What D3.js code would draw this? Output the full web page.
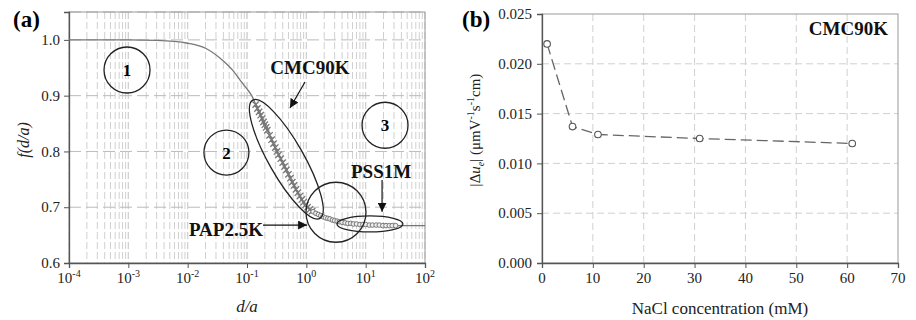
<!DOCTYPE html>
<html>
<head>
<meta charset="utf-8">
<script src="https://cdn.jsdelivr.net/npm/d3@7"></script>
<style>
  body { margin: 0; background: #fff; }
</style>
</head>
<body>
<div id="chart"></div>
<script>
// ---- panel (a) data: f(d/a) curve and the three polymer series
const curveDa = [0.0001, 0.001, 0.003, 0.01, 0.02, 0.04, 0.06, 0.08, 0.1, 0.12, 0.15, 0.2, 0.25, 0.32,
  0.4, 0.5, 0.6, 0.7, 0.8, 0.95, 1.1, 1.3, 1.7, 2.5, 3.5, 5, 10, 30, 100];
const curveF = [1.000, 1.000, 0.999, 0.994, 0.985, 0.962, 0.943, 0.925, 0.912, 0.900, 0.877, 0.848, 0.825, 0.800,
  0.780, 0.759, 0.742, 0.728, 0.717, 0.703, 0.697, 0.692, 0.686, 0.679, 0.675, 0.672, 0.669, 0.667, 0.667];

const cmcDa = [0.14, 0.15, 0.16, 0.17, 0.18, 0.19, 0.2, 0.21, 0.22, 0.24, 0.26, 0.28, 0.3, 0.32, 0.34, 0.37,
  0.4, 0.43, 0.46, 0.5, 0.54, 0.58, 0.62, 0.67, 0.72, 0.78, 0.84, 0.9, 0.97, 1.05, 1.15, 1.25];
const cmcF = [0.884, 0.877, 0.871, 0.865, 0.859, 0.853, 0.848, 0.843, 0.838, 0.829, 0.821, 0.814, 0.807, 0.800, 0.794, 0.787,
  0.780, 0.773, 0.767, 0.759, 0.752, 0.745, 0.739, 0.732, 0.726, 0.720, 0.714, 0.709, 0.704, 0.700, 0.696, 0.693];

const papDa = [1.3, 1.45, 1.6, 1.75, 1.9, 2.1, 2.3, 2.5, 2.75, 3.0, 3.3, 3.6, 4.0, 4.5];
const papF = [0.692, 0.689, 0.687, 0.685, 0.683, 0.681, 0.680, 0.679, 0.677, 0.676, 0.675, 0.674, 0.673, 0.672];

const pssDa = [5, 5.6, 6.2, 7, 8, 9, 10, 11.5, 13, 15, 17, 19.5, 22, 25, 28, 32];
const pssF = [0.671, 0.671, 0.670, 0.670, 0.669, 0.669, 0.669, 0.668, 0.668, 0.668, 0.668, 0.667, 0.667, 0.667, 0.667, 0.667];

const xExpA = [-4, -3, -2, -1, 0, 1, 2];
const yTicksA = [0.6, 0.7, 0.8, 0.9, 1.0];

// ---- panel (b) data
const naclConc = [1, 6, 11, 31, 61];
const deltaU = [0.0220, 0.0137, 0.0129, 0.0125, 0.0120];
const xTicksB = [0, 10, 20, 30, 40, 50, 60, 70];
const yTicksB = [0, 0.005, 0.010, 0.015, 0.020, 0.025];

const W = 916, H = 320;
const svg = d3.select("#chart").append("svg").attr("width", W).attr("height", H)
  .attr("font-family", "'Liberation Serif', 'Liberation Sans', Arial, sans-serif");

const defs = svg.append("defs");
defs.append("marker").attr("id", "arr")
  .attr("viewBox", "0 0 10 10").attr("refX", 10).attr("refY", 5)
  .attr("markerWidth", 9).attr("markerHeight", 9).attr("markerUnits", "userSpaceOnUse")
  .attr("orient", "auto")
  .append("path").attr("d", "M0,0 L10,5 L0,10 Z").attr("fill", "#111");

// ================= panel (a) =================
const A = {left: 69, right: 425, top: 12, bottom: 263};
const xA = d3.scaleLog().domain([1e-4, 1e2]).range([A.left, A.right]);
const yA = d3.scaleLinear().domain([0.6, 1.05]).range([A.bottom, A.top]);

const gA = svg.append("g");

// minor vertical grid
const minorA = [];
xExpA.slice(0, -1).forEach(e => {
  for (let m = 1; m <= 10; m++) minorA.push(m * Math.pow(10, e));
});
gA.append("g").selectAll("line").data(minorA).join("line")
  .attr("x1", d => xA(d)).attr("x2", d => xA(d))
  .attr("y1", A.top).attr("y2", A.bottom)
  .attr("stroke", "#d0d0d0").attr("stroke-width", 1).attr("stroke-dasharray", "7,3");

gA.append("g").selectAll("line").data(yTicksA.slice(1).concat([1.05])).join("line")
  .attr("x1", A.left).attr("x2", A.right)
  .attr("y1", d => yA(d)).attr("y2", d => yA(d))
  .attr("stroke", "#bbb").attr("stroke-width", 1).attr("stroke-dasharray", "12,5");

// frame
gA.append("rect").attr("x", A.left).attr("y", A.top)
  .attr("width", A.right - A.left).attr("height", A.bottom - A.top)
  .attr("fill", "none").attr("stroke", "#999");

// axes
const axA_x = gA.append("g").attr("transform", `translate(0,${A.bottom})`)
  .call(d3.axisBottom(xA).tickValues(xExpA.map(e => Math.pow(10, e))).tickFormat("").tickSizeOuter(0).tickSize(5));
const axA_y = gA.append("g").attr("transform", `translate(${A.left},0)`)
  .call(d3.axisLeft(yA).tickValues(yTicksA).tickFormat("").tickSizeOuter(0).tickSize(5));
[axA_x, axA_y].forEach(ax => {
  ax.attr("font-family", null);
  ax.select(".domain").attr("stroke", "#555").attr("stroke-width", 1.3);
  ax.selectAll(".tick line").attr("stroke", "#555");
});

// tick labels
gA.append("g").selectAll("text").data(yTicksA).join("text")
  .attr("x", A.left - 9).attr("y", d => yA(d)).attr("dy", "0.35em")
  .attr("text-anchor", "end").attr("font-size", 15).attr("fill", "#222")
  .text(d => d.toFixed(1));

const xl = gA.append("g").selectAll("text").data(xExpA).join("text")
  .attr("x", d => xA(Math.pow(10, d))).attr("y", 283)
  .attr("text-anchor", "middle").attr("font-size", 15).attr("fill", "#222");
xl.append("tspan").text("10");
xl.append("tspan").attr("dy", -6).attr("font-size", 10).text(d => d);

gA.append("text").attr("x", (A.left + A.right) / 2).attr("y", 312)
  .attr("text-anchor", "middle").attr("font-size", 17).attr("font-style", "italic").attr("fill", "#222")
  .text("d/a");

gA.append("text").attr("transform", `translate(29,${140}) rotate(-90)`)
  .attr("text-anchor", "middle").attr("font-size", 16).attr("font-style", "italic").attr("fill", "#222")
  .text("f(d/a)");

gA.append("text").attr("x", 13).attr("y", 27).attr("font-size", 23).attr("font-weight", "bold").text("(a)");

// theory curve
const lineA = d3.line().x(d => xA(d[0])).y(d => yA(d[1])).curve(d3.curveMonotoneX);
gA.append("path").datum(d3.zip(curveDa, curveF))
  .attr("d", lineA).attr("fill", "none").attr("stroke", "#777").attr("stroke-width", 1.3);

// CMC90K crosses
const cross = d3.symbol().type(d3.symbolX).size(28);
gA.append("g").selectAll("path").data(d3.zip(cmcDa, cmcF)).join("path")
  .attr("transform", d => `translate(${xA(d[0])},${yA(d[1])})`)
  .attr("d", cross).attr("fill", "none").attr("stroke", "#777").attr("stroke-width", 1.3);

// PAP2.5K and PSS1M circles
gA.append("g").selectAll("circle").data(d3.zip(papDa, papF).concat(d3.zip(pssDa, pssF))).join("circle")
  .attr("cx", d => xA(d[0])).attr("cy", d => yA(d[1])).attr("r", 2.3)
  .attr("fill", "#eee").attr("stroke", "#777").attr("stroke-width", 1);

// annotation shapes
const regions = [
  {label: "1", da: 0.00095, f: 0.946, r: 23},
  {label: "2", da: 0.045, f: 0.798, r: 22.5},
  {label: "3", da: 21.2, f: 0.847, r: 23}
];
const ann = gA.append("g");
ann.selectAll("circle").data(regions).join("circle")
  .attr("cx", d => xA(d.da)).attr("cy", d => yA(d.f)).attr("r", d => d.r)
  .attr("fill", "none").attr("stroke", "#222").attr("stroke-width", 1.3);
ann.selectAll("text.num").data(regions).join("text").attr("class", "num")
  .attr("x", d => xA(d.da)).attr("y", d => yA(d.f)).attr("dy", "0.35em")
  .attr("text-anchor", "middle").attr("font-size", 17).attr("font-weight", "bold").text(d => d.label);

ann.append("circle").attr("cx", xA(3.16)).attr("cy", yA(0.691)).attr("r", 30)
  .attr("fill", "none").attr("stroke", "#222").attr("stroke-width", 1.3);
ann.append("ellipse").attr("cx", 0).attr("cy", 0).attr("rx", 68).attr("ry", 17.5)
  .attr("transform", `translate(${xA(0.46)},${yA(0.786)}) rotate(60.4)`)
  .attr("fill", "none").attr("stroke", "#222").attr("stroke-width", 1.3);
ann.append("ellipse").attr("cx", xA(11.8)).attr("cy", yA(0.670)).attr("rx", 33).attr("ry", 8)
  .attr("fill", "none").attr("stroke", "#222").attr("stroke-width", 1.3);

const arrows = [
  [[0.95, 0.9245], [0.53, 0.878]],
  [[0.186, 0.668], [1.03, 0.668]],
  [[18.9, 0.749], [18.9, 0.692]]
];
ann.selectAll("line.arr").data(arrows).join("line").attr("class", "arr")
  .attr("x1", d => xA(d[0][0])).attr("y1", d => yA(d[0][1]))
  .attr("x2", d => xA(d[1][0])).attr("y2", d => yA(d[1][1]))
  .attr("stroke", "#111").attr("stroke-width", 1.2).attr("marker-end", "url(#arr)");

const tags = [
  {t: "CMC90K", da: 1.15, f: 0.939, anchor: "middle"},
  {t: "PAP2.5K", da: 0.186, f: 0.648, anchor: "end"},
  {t: "PSS1M", da: 18.2, f: 0.752, anchor: "middle"}
];
ann.selectAll("text.tag").data(tags).join("text").attr("class", "tag")
  .attr("x", d => xA(d.da)).attr("y", d => yA(d.f)).attr("text-anchor", d => d.anchor)
  .attr("font-size", 19).attr("font-weight", "bold").attr("fill", "#111").text(d => d.t);

// ================= panel (b) =================
const B = {left: 542, right: 898, top: 14, bottom: 263};
const xB = d3.scaleLinear().domain([0, 70]).range([B.left, B.right]);
const yB = d3.scaleLinear().domain([0, 0.025]).range([B.bottom, B.top]);
const gB = svg.append("g");

gB.append("g").selectAll("line").data(xTicksB.slice(1, -1)).join("line")
  .attr("x1", d => xB(d)).attr("x2", d => xB(d)).attr("y1", B.top).attr("y2", B.bottom)
  .attr("stroke", "#d0d0d0").attr("stroke-dasharray", "7,4");
gB.append("g").selectAll("line").data(yTicksB.slice(1, -1)).join("line")
  .attr("x1", B.left).attr("x2", B.right).attr("y1", d => yB(d)).attr("y2", d => yB(d))
  .attr("stroke", "#d0d0d0").attr("stroke-dasharray", "7,4");

gB.append("rect").attr("x", B.left).attr("y", B.top)
  .attr("width", B.right - B.left).attr("height", B.bottom - B.top)
  .attr("fill", "none").attr("stroke", "#999");

const axB_x = gB.append("g").attr("transform", `translate(0,${B.bottom})`)
  .call(d3.axisBottom(xB).tickValues(xTicksB).tickFormat("").tickSizeOuter(0).tickSize(5));
const axB_y = gB.append("g").attr("transform", `translate(${B.left},0)`)
  .call(d3.axisLeft(yB).tickValues(yTicksB).tickFormat("").tickSizeOuter(0).tickSize(5));
[axB_x, axB_y].forEach(ax => {
  ax.attr("font-family", null);
  ax.select(".domain").attr("stroke", "#555").attr("stroke-width", 1.3);
  ax.selectAll(".tick line").attr("stroke", "#555");
});

gB.append("g").selectAll("text").data(yTicksB).join("text")
  .attr("x", B.left - 10).attr("y", d => yB(d)).attr("dy", "0.35em")
  .attr("text-anchor", "end").attr("font-size", 15).attr("fill", "#222")
  .text(d => d.toFixed(3));
gB.append("g").selectAll("text").data(xTicksB).join("text")
  .attr("x", d => xB(d)).attr("y", 283)
  .attr("text-anchor", "middle").attr("font-size", 15).attr("fill", "#222")
  .text(d => d);

gB.append("text").attr("x", 720).attr("y", 314)
  .attr("text-anchor", "middle").attr("font-size", 17).attr("fill", "#222")
  .text("NaCl concentration (mM)");

const yl = gB.append("text").attr("transform", `translate(480,${130}) rotate(-90)`)
  .attr("text-anchor", "middle").attr("font-size", 15).attr("fill", "#222");
yl.append("tspan").text("|\u0394");
yl.append("tspan").attr("font-style", "italic").text("u");
yl.append("tspan").attr("font-style", "italic").attr("font-size", 10).attr("dy", 4).text("e");
yl.append("tspan").attr("dy", -4).text("| (\u03bcmV");
yl.append("tspan").attr("font-size", 10).attr("dy", -6).text("-1");
yl.append("tspan").attr("dy", 6).text("s");
yl.append("tspan").attr("font-size", 10).attr("dy", -6).text("-1");
yl.append("tspan").attr("dy", 6).text("cm)");

gB.append("text").attr("x", 462).attr("y", 27).attr("font-size", 23).attr("font-weight", "bold").text("(b)");
gB.append("text").attr("x", 888).attr("y", 35).attr("text-anchor", "end")
  .attr("font-size", 19).attr("font-weight", "bold").attr("fill", "#111").text("CMC90K");

const ptsB = d3.zip(naclConc, deltaU);
gB.append("path").datum(ptsB)
  .attr("d", d3.line().x(d => xB(d[0])).y(d => yB(d[1])))
  .attr("fill", "none").attr("stroke", "#666").attr("stroke-width", 1.3).attr("stroke-dasharray", "11,5");
gB.append("g").selectAll("circle").data(ptsB).join("circle")
  .attr("cx", d => xB(d[0])).attr("cy", d => yB(d[1])).attr("r", 3.3)
  .attr("fill", "#fff").attr("stroke", "#555").attr("stroke-width", 1.1);
</script>
</body>
</html>
